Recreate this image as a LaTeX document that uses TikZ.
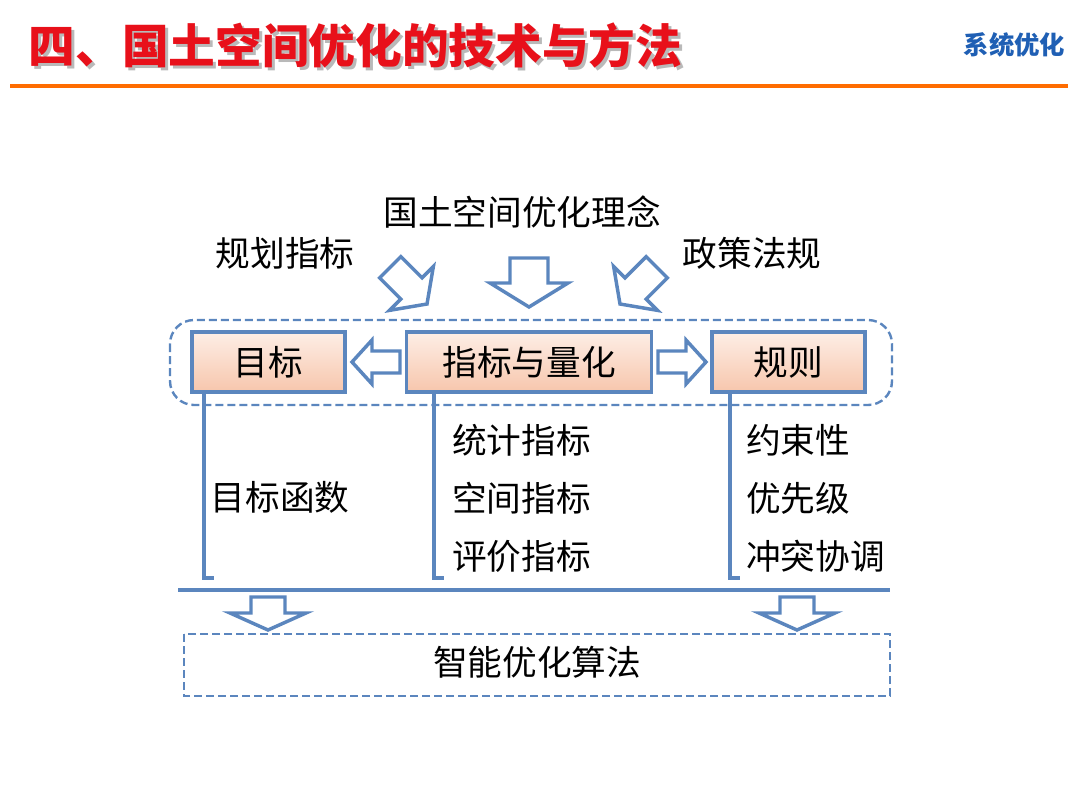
\documentclass[tikz,border=0pt]{standalone}
\usepackage{fontspec}
\setmainfont{Noto Sans CJK SC}
\usetikzlibrary{positioning}
\definecolor{framecol}{HTML}{5B86BE}
\definecolor{titlered}{HTML}{E8101A}
\definecolor{titleblue}{HTML}{1F5FB4}
\definecolor{boxtop}{HTML}{FDEEE6}
\definecolor{boxbot}{HTML}{F7C6AC}
\tikzset{
  stage/.style={draw=framecol, line width=2.6pt, top color=boxtop, bottom color=boxbot,
    minimum height=45pt, font=\fontsize{26}{26}\selectfont},
  flowarrow/.style={draw=framecol, line width=2.6pt, fill=white, line join=miter},
  link/.style={draw=framecol, line width=2.4pt},
  label/.style={font=\fontsize{26}{26}\selectfont, inner sep=0pt},
  groupbox/.style={draw=framecol, line width=1.8pt, dashed, dash pattern=on 6pt off 3pt}
}
% block arrow: tip, angle, body half width, head half width, length, head length
\newcommand{\flowblock}[6]{%
  \draw[flowarrow, shift={(#1)}, rotate=#2]
    (-#3,-#5) -- (#3,-#5) -- (#3,-#6) -- (#4,-#6) -- (0,0) -- (-#4,-#6) -- (-#3,-#6) -- cycle;}
\begin{document}
\begin{tikzpicture}[x=0.75pt,y=-0.75pt]
    \useasboundingbox (0,0) rectangle (1080,810);

    % header
    \node[font=\fontsize{35}{35}\selectfont\bfseries, text=gray!55, anchor=west] at (27,48) {四、国土空间优化的技术与方法};
    \node (title) [font=\fontsize{35}{35}\selectfont\bfseries, text=titlered, anchor=west] at (24,45) {四、国土空间优化的技术与方法};
    \node (tag) [font=\fontsize{19}{19}\selectfont\bfseries, text=titleblue, anchor=east] at (1070,45) {系统优化};
    \draw[orange!85!red, line width=3pt] (10,86) -- (1068,86);

    % inputs
    \node (idea) [label] at (522,212) {国土空间优化理念};
    \node (plan) [label] at (285,253) {规划指标};
    \node (policy) [label] at (752,253) {政策法规};
    \flowblock{529,307}{0}{19}{39}{49}{24}
    \flowblock{427,304}{45}{15}{31}{52}{22}
    \flowblock{620,304}{-45}{15}{31}{52}{22}

    % core group
    \draw[groupbox, rounded corners=18pt] (170,320) rectangle (892,405);
    \node (goal) [stage, minimum width=115pt] at (268.5,362) {目标};
    \node (index) [stage, minimum width=184pt] at (529,362) {指标与量化};
    \node (rule) [stage, minimum width=115pt] at (788.5,362) {规则};
    \flowblock{352,362}{-90}{11}{22}{48}{20}
    \flowblock{706,362}{90}{11}{22}{48}{20}

    % branches
    \coordinate (gend) at (214,578);
    \coordinate (iend) at (444,578);
    \coordinate (rend) at (740,578);
    \draw[link] (goal.south -| 204,0) |- (gend);
    \draw[link] (index.south -| 434,0) |- (iend);
    \draw[link] (rule.south -| 730,0) |- (rend);

    \node (objfun) [label] at (280,497) {目标函数};
    \node (stat) [label, anchor=west] at (452,440) {统计指标};
    \node (space) [label, anchor=west] at (452,498) {空间指标};
    \node (eval) [label, anchor=west] at (452,556) {评价指标};
    \node (bind) [label, anchor=west] at (746,440) {约束性};
    \node (prio) [label, anchor=west] at (746,498) {优先级};
    \node (conf) [label, anchor=west] at (746,556) {冲突协调};

    % merge
    \coordinate (mleft) at (178,590);
    \coordinate (mright) at (890,590);
    \draw[link] (mleft) -- (mright);
    \flowblock{268,630}{0}{17}{38}{33}{17}
    \flowblock{797,630}{0}{17}{38}{33}{17}

    \draw[groupbox] (184,634) rectangle (890,696);
    \node (algo) [label] at (537,662) {智能优化算法};
\end{tikzpicture}
\end{document}
